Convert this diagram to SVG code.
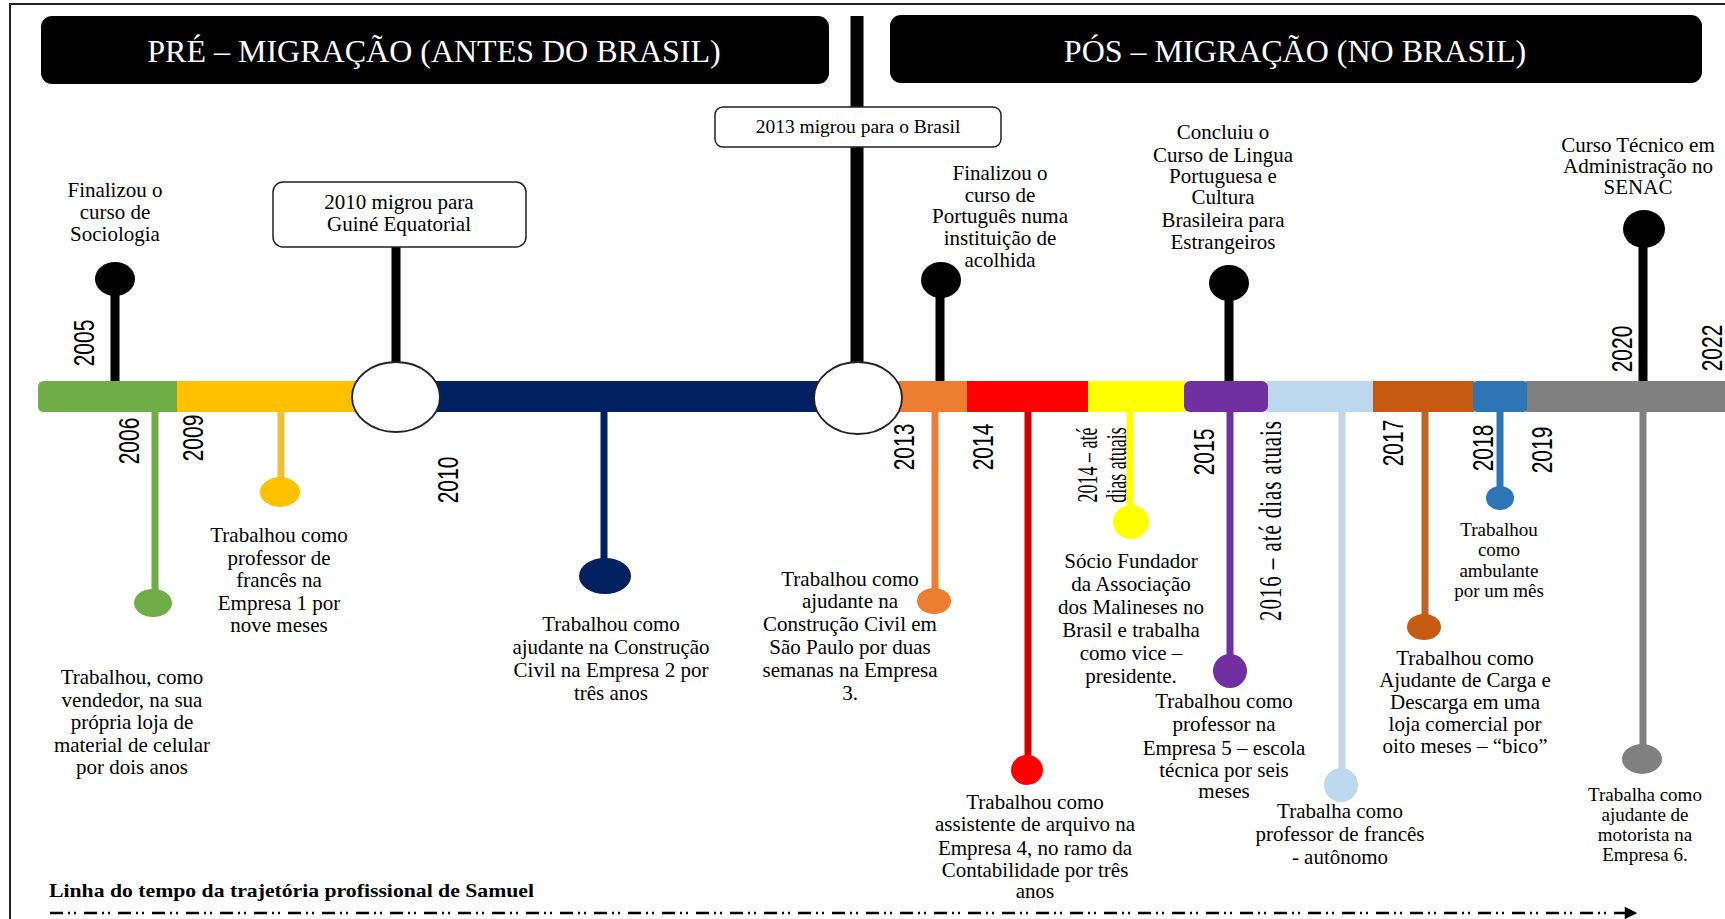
<svg xmlns="http://www.w3.org/2000/svg" width="1725" height="919" viewBox="0 0 1725 919">
<defs>
<style>
.t{font-family:"Liberation Serif","Times New Roman",serif;font-size:21px;fill:#000;text-anchor:middle}
.s{font-family:"Liberation Serif","Times New Roman",serif;font-size:19px;fill:#000;text-anchor:middle}
.h{font-family:"Liberation Serif","Times New Roman",serif;font-size:32px;fill:#fff;text-anchor:middle}
.y{font-family:"Liberation Sans",Arial,sans-serif;font-size:21px;fill:#000;text-anchor:middle}
.ys{font-family:"Liberation Serif","Times New Roman",serif;fill:#000;text-anchor:middle}
.cap{font-family:"Liberation Serif","Times New Roman",serif;font-size:19px;font-weight:bold;fill:#000}
.box{fill:#fff;stroke:#222;stroke-width:1.5}
.ring{fill:#fff;stroke:#222;stroke-width:1.8}
.stem{stroke-width:7;fill:none}
.bstem{stroke:#000;stroke-width:9;fill:none}
</style>
<marker id="ah" viewBox="0 0 10 10" refX="9" refY="5" markerWidth="6" markerHeight="5" markerUnits="strokeWidth" orient="auto">
<path d="M0,0 L10,5 L0,10 Z" fill="#000"/>
</marker>
</defs>
<rect width="1725" height="919" fill="#fff"/>
<path d="M10,919 V4 H1725" fill="none" stroke="#222" stroke-width="2"/>

<g id="header-pre">
<rect x="41" y="16" width="788" height="68" rx="11" fill="#000"/>
<text class="h" x="434" y="62">PRÉ – MIGRAÇÃO (ANTES DO BRASIL)</text>
</g>
<g id="header-pos">
<rect x="890" y="15" width="812" height="68" rx="11" fill="#000"/>
<text class="h" x="1295" y="62">PÓS – MIGRAÇÃO (NO BRASIL)</text>
</g>

<g id="timeline-bar">
<path d="M44,381 H177 V412 H44 Q38,412 38,406 V387 Q38,381 44,381 Z" fill="#70AD47"/>
<rect x="177" y="381" width="180" height="31" fill="#FFC000"/>
<rect x="396" y="381" width="462" height="31" fill="#002060"/>
<rect x="858" y="381" width="110" height="31" fill="#ED7D31"/>
<rect x="967" y="381" width="122" height="31" fill="#FF0000"/>
<rect x="1088" y="381" width="97" height="31" fill="#FFFF00"/>
<rect x="1267" y="381" width="107" height="31" fill="#BDD7EE"/>
<rect x="1184" y="381" width="84" height="31" rx="6" fill="#7030A0"/>
<rect x="1373" y="381" width="101" height="31" fill="#C55A11"/>
<rect x="1526" y="381" width="199" height="31" fill="#808080"/>
<rect x="1473" y="381" width="54" height="31" rx="4" fill="#2E75B6"/>
</g>

<g id="connectors">
<line class="bstem" x1="115" y1="381" x2="115" y2="280"/>
<line class="bstem" x1="396" y1="247" x2="396" y2="363"/>
<line stroke="#000" stroke-width="13" x1="857" y1="16" x2="857" y2="363"/>
<line class="bstem" x1="940" y1="381" x2="940" y2="280"/>
<line class="bstem" x1="1229" y1="381" x2="1229" y2="283"/>
<line class="bstem" x1="1643" y1="381" x2="1643" y2="229"/>
<line class="stem" stroke="#70AD47" x1="155" y1="412" x2="155" y2="603"/>
<line class="stem" stroke="#F2BF3A" x1="281" y1="412" x2="281" y2="492"/>
<line class="stem" stroke="#002060" x1="604" y1="412" x2="604" y2="576"/>
<line class="stem" stroke="#ED7D31" x1="935" y1="412" x2="935" y2="601"/>
<line class="stem" stroke="#D00000" x1="1028" y1="412" x2="1028" y2="770"/>
<line class="stem" stroke="#FFFF00" x1="1130" y1="412" x2="1130" y2="522"/>
<line class="stem" stroke="#7030A0" x1="1230" y1="412" x2="1230" y2="671"/>
<line class="stem" stroke="#C3D5E6" x1="1342" y1="412" x2="1342" y2="785"/>
<line class="stem" stroke="#B8662A" x1="1425" y1="412" x2="1425" y2="627"/>
<line class="stem" stroke="#2E75B6" x1="1500" y1="412" x2="1500" y2="498"/>
<line class="stem" stroke="#808080" x1="1643" y1="412" x2="1643" y2="759"/>
<line x1="50" y1="913" x2="1636" y2="913" stroke="#000" stroke-width="2.5" stroke-dasharray="13 5 2 4 2 8" marker-end="url(#ah)"/>
</g>

<g id="migration-2010">
<ellipse class="ring" cx="396" cy="397" rx="44" ry="35"/>
<rect class="box" x="273" y="182" width="253" height="65" rx="10"/>
<text class="t" x="399" y="209">2010 migrou para</text>
<text class="t" x="399" y="231">Guiné Equatorial</text>
</g>
<g id="migration-2013">
<ellipse class="ring" cx="858" cy="398" rx="44" ry="36"/>
<rect class="box" x="715" y="107" width="286" height="40" rx="8"/>
<text class="t" x="858" y="133" style="font-size:19.5px">2013 migrou para o Brasil</text>
</g>

<g id="ev-2005">
<ellipse cx="115" cy="279" rx="20" ry="17" fill="#000"/>
<text class="t"><tspan x="115" y="197">Finalizou o</tspan><tspan x="115" y="219">curso de</tspan><tspan x="115" y="241">Sociologia</tspan></text>
<text class="y" transform="translate(83,343) rotate(-90) scale(1,1.4)" y="7.5">2005</text>
</g>
<g id="ev-2006">
<ellipse cx="153" cy="603" rx="19" ry="14" fill="#70AD47"/>
<text class="y" transform="translate(128,441) rotate(-90) scale(1,1.4)" y="7.5">2006</text>
<text class="t"><tspan x="132" y="684">Trabalhou, como</tspan><tspan x="132" y="707">vendedor, na sua</tspan><tspan x="132" y="729">própria loja de</tspan><tspan x="132" y="752">material  de celular</tspan><tspan x="132" y="774">por dois anos</tspan></text>
</g>
<g id="ev-2009">
<ellipse cx="280" cy="492" rx="20" ry="15" fill="#FFC000"/>
<text class="y" transform="translate(192,438) rotate(-90) scale(1,1.4)" y="7.5">2009</text>
<text class="t"><tspan x="279" y="542">Trabalhou como</tspan><tspan x="279" y="565">professor de</tspan><tspan x="279" y="587">francês na</tspan><tspan x="279" y="610">Empresa 1 por</tspan><tspan x="279" y="632">nove meses</tspan></text>
</g>
<g id="ev-2010">
<ellipse cx="605" cy="576" rx="26" ry="18" fill="#002060"/>
<text class="y" transform="translate(447,480) rotate(-90) scale(1,1.4)" y="7.5">2010</text>
<text class="t"><tspan x="611" y="631">Trabalhou como</tspan><tspan x="611" y="654">ajudante na Construção</tspan><tspan x="611" y="677">Civil na Empresa 2 por</tspan><tspan x="611" y="700">três anos</tspan></text>
</g>
<g id="ev-2013">
<ellipse cx="934" cy="601" rx="17" ry="13" fill="#ED7D31"/>
<text class="y" transform="translate(903,447) rotate(-90) scale(1,1.4)" y="7.5">2013</text>
<text class="t"><tspan x="850" y="586">Trabalhou como</tspan><tspan x="850" y="608">ajudante na</tspan><tspan x="850" y="631">Construção Civil em</tspan><tspan x="850" y="654">São Paulo por duas</tspan><tspan x="850" y="677">semanas na Empresa</tspan><tspan x="850" y="700">3.</tspan></text>
</g>
<g id="ev-2013-portugues">
<ellipse cx="941" cy="280" rx="20" ry="18" fill="#000"/>
<text class="t"><tspan x="1000" y="180">Finalizou o</tspan><tspan x="1000" y="202">curso de</tspan><tspan x="1000" y="223">Português numa</tspan><tspan x="1000" y="245">instituição de</tspan><tspan x="1000" y="267">acolhida</tspan></text>
</g>
<g id="ev-2014">
<ellipse cx="1027" cy="770" rx="16" ry="15" fill="#FF0000"/>
<text class="y" transform="translate(982,447) rotate(-90) scale(1,1.4)" y="7.5">2014</text>
<text class="t"><tspan x="1035" y="809">Trabalhou como</tspan><tspan x="1035" y="831">assistente de arquivo na</tspan><tspan x="1035" y="855">Empresa 4, no ramo da</tspan><tspan x="1035" y="877">Contabilidade  por três</tspan><tspan x="1035" y="898">anos</tspan></text>
</g>
<g id="ev-2014-atual">
<ellipse cx="1131" cy="522" rx="18" ry="17" fill="#FFFF00"/>
<text class="ys" style="font-size:18px" transform="translate(1087,465) rotate(-90) scale(1,1.6)" y="6">2014 – até</text>
<text class="ys" style="font-size:18px" transform="translate(1116,465) rotate(-90) scale(1,1.6)" y="6">dias atuais</text>
<text class="t"><tspan x="1131" y="568">Sócio Fundador</tspan><tspan x="1131" y="591">da Associação</tspan><tspan x="1131" y="614">dos Malineses no</tspan><tspan x="1131" y="637">Brasil e trabalha</tspan><tspan x="1131" y="660">como vice –</tspan><tspan x="1131" y="683">presidente.</tspan></text>
</g>
<g id="ev-2015">
<ellipse cx="1229" cy="283" rx="20" ry="18" fill="#000"/>
<ellipse cx="1230" cy="671" rx="17" ry="17" fill="#7030A0"/>
<text class="y" transform="translate(1203,452) rotate(-90) scale(1,1.4)" y="7.5">2015</text>
<text class="t"><tspan x="1223" y="139">Concluiu o</tspan><tspan x="1223" y="162">Curso de Lingua</tspan><tspan x="1223" y="183">Portuguesa e</tspan><tspan x="1223" y="204">Cultura</tspan><tspan x="1223" y="227">Brasileira para</tspan><tspan x="1223" y="249">Estrangeiros</tspan></text>
<text class="t"><tspan x="1224" y="708">Trabalhou como</tspan><tspan x="1224" y="731">professor na</tspan><tspan x="1224" y="755">Empresa 5 – escola</tspan><tspan x="1224" y="777">técnica por seis</tspan><tspan x="1224" y="798">meses</tspan></text>
</g>
<g id="ev-2016">
<ellipse cx="1341" cy="785" rx="17" ry="17" fill="#BDD7EE"/>
<text class="ys" style="font-size:21px" transform="translate(1270,521) rotate(-90) scale(1,1.5)" y="7" textLength="200">2016 – até  dias  atuais</text>
<text class="t"><tspan x="1340" y="818">Trabalha como</tspan><tspan x="1340" y="841">professor de francês</tspan><tspan x="1340" y="864">- autônomo</tspan></text>
</g>
<g id="ev-2017">
<ellipse cx="1424" cy="627" rx="17" ry="13" fill="#C55A11"/>
<text class="y" transform="translate(1392,443) rotate(-90) scale(1,1.4)" y="7.5">2017</text>
<text class="t"><tspan x="1465" y="665">Trabalhou como</tspan><tspan x="1465" y="687">Ajudante de Carga e</tspan><tspan x="1465" y="709">Descarga em uma</tspan><tspan x="1465" y="731">loja comercial por</tspan><tspan x="1465" y="753">oito meses – “bico”</tspan></text>
</g>
<g id="ev-2018">
<ellipse cx="1500" cy="498" rx="14" ry="12" fill="#2E75B6"/>
<text class="y" transform="translate(1482,448) rotate(-90) scale(1,1.4)" y="7.5">2018</text>
<text class="y" transform="translate(1541,450) rotate(-90) scale(1,1.4)" y="7.5">2019</text>
<text class="s"><tspan x="1499" y="536">Trabalhou</tspan><tspan x="1499" y="556">como</tspan><tspan x="1499" y="577">ambulante</tspan><tspan x="1499" y="597">por um mês</tspan></text>
</g>
<g id="ev-2020">
<ellipse cx="1644" cy="229" rx="21" ry="19" fill="#000"/>
<ellipse cx="1642" cy="759" rx="20" ry="15" fill="#808080"/>
<text class="y" transform="translate(1621,349) rotate(-90) scale(1,1.4)" y="7.5">2020</text>
<text class="y" transform="translate(1711,348) rotate(-90) scale(1,1.4)" y="7.5">2022</text>
<text class="t"><tspan x="1638" y="152">Curso Técnico em</tspan><tspan x="1638" y="173">Administração no</tspan><tspan x="1638" y="194">SENAC</tspan></text>
<text class="s"><tspan x="1645" y="801">Trabalha como</tspan><tspan x="1645" y="821">ajudante de</tspan><tspan x="1645" y="841">motorista na</tspan><tspan x="1645" y="861">Empresa 6.</tspan></text>
</g>

<g id="caption">
<text class="cap" x="49" y="897" textLength="485" lengthAdjust="spacingAndGlyphs">Linha do tempo da trajetória profissional de Samuel</text>
</g>
</svg>
